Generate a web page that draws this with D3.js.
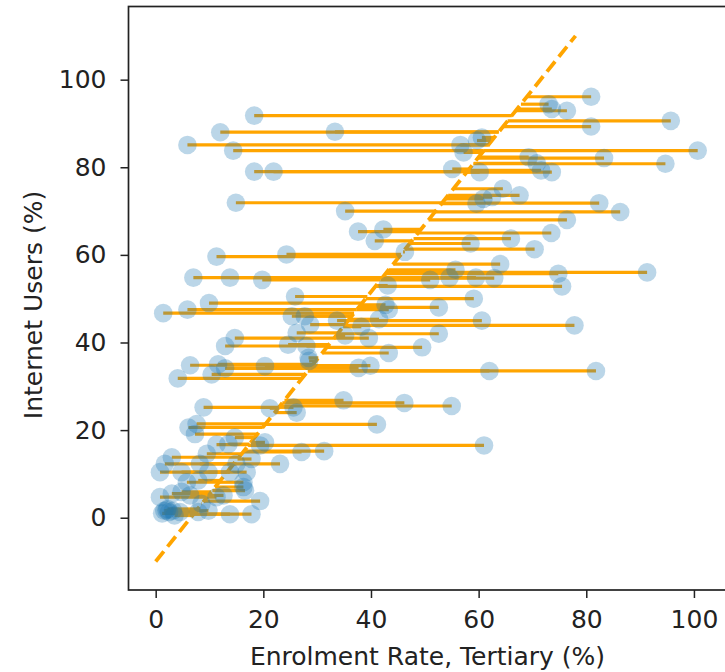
<!DOCTYPE html>
<html>
<head>
<meta charset="utf-8">
<script src="https://cdn.jsdelivr.net/npm/d3@7"></script>
<style>
  body { margin: 0; background: #fff; }
  text { font-family: "DejaVu Sans", sans-serif; fill: #222; }
</style>
</head>
<body>
<svg id="chart" width="725" height="672"></svg>
<script>
// enrolment rate (x) and internet users (y)
const enrolment = [
  18.3, 12.0, 33.3, 5.9, 14.4, 18.3, 21.9, 14.9, 35.2, 37.6, 42.3, 40.7, 46.3, 11.3, 24.3,
  7.0, 13.8, 19.8, 43.1, 25.9, 80.9, 73.0, 73.6, 76.4, 95.7, 80.9, 56.6, 60.6, 59.7, 57.2,
  100.7, 83.3, 94.7, 69.3, 70.8, 71.6, 73.6, 55.1, 60.2, 64.5, 67.6, 59.6, 60.9, 62.5, 82.4,
  86.3, 76.4, 73.5, 66.0, 70.4, 58.5, 91.3, 74.8, 75.5, 64.0, 55.7, 51.0, 54.6, 59.5, 62.9,
  59.1, 52.6, 60.6, 77.8, 52.6, 49.5, 62.0, 81.8, 55.0, 61.0, 42.7, 43.3, 33.7, 38.2, 41.5,
  35.2, 39.6, 43.3, 37.7, 39.9, 34.9, 46.2, 41.1, 31.3, 1.4, 5.9, 9.9, 25.3, 27.7, 28.7,
  26.2, 24.6, 28.0, 28.4, 28.5, 14.7, 12.9, 6.4, 11.6, 12.9, 20.3, 4.1, 10.4, 8.9, 21.2,
  25.6, 26.2, 6.1, 7.3, 7.6, 14.7, 13.5, 11.3, 20.3, 19.4, 23.1, 27.1, 17.8, 3.0, 1.7,
  9.5, 8.2, 0.8, 4.8, 9.8, 13.8, 16.9, 15.0, 5.8, 7.9, 16.3, 16.3, 0.8, 3.0, 4.8,
  6.4, 11.3, 12.6, 19.4, 8.5, 2.0, 1.6, 2.5, 3.2, 4.5, 7.9, 9.8, 13.8, 17.8, 16.6,
  2.2, 1.2, 3.5
];
const internetUsers = [
  91.8, 88.0, 88.1, 85.1, 83.8, 79.0, 79.0, 71.9, 70.0, 65.3, 65.8, 63.2, 60.7, 59.6, 60.1,
  54.8, 54.8, 54.3, 53.0, 50.5, 96.1, 94.4, 93.3, 92.9, 90.6, 89.3, 85.1, 86.8, 86.1, 83.4,
  83.8, 82.1, 80.8, 82.3, 80.9, 79.3, 78.9, 79.6, 78.9, 75.1, 73.6, 71.7, 72.8, 73.2, 71.8,
  69.8, 68.0, 65.0, 63.7, 61.3, 62.6, 56.0, 55.7, 52.8, 57.9, 56.6, 54.3, 54.8, 54.8, 54.7,
  50.0, 48.0, 45.0, 43.9, 42.0, 38.9, 33.5, 33.5, 25.5, 16.5, 48.6, 47.5, 45.0, 43.6, 45.3,
  41.6, 41.0, 37.6, 34.2, 34.7, 26.8, 26.2, 21.3, 15.2, 46.7, 47.5, 49.0, 46.0, 46.0, 44.1,
  42.2, 39.5, 39.2, 36.5, 35.8, 41.0, 39.2, 34.8, 35.0, 34.1, 34.6, 31.8, 32.7, 25.2, 25.0,
  25.2, 24.0, 20.6, 19.1, 21.4, 18.3, 16.8, 16.7, 17.2, 16.5, 12.3, 15.0, 13.4, 13.8, 12.3,
  14.6, 12.3, 10.4, 10.4, 10.4, 10.4, 10.4, 12.3, 8.1, 8.5, 8.1, 7.0, 4.7, 5.5, 5.9,
  5.1, 4.7, 5.1, 3.8, 3.2, 1.7, 1.6, 1.3, 1.6, 1.3, 1.3, 1.6, 0.8, 0.8, 6.2,
  2.0, 1.0, 0.5
];
// dashed fit line, enrolment as a function of internet users
const fitUsers = [-10, 110];
const fitEnrolment = [0, 78];
const xTicks = [0, 20, 40, 60, 80, 100];
const yTicks = [0, 20, 40, 60, 80, 100];

const svg = d3.select("#chart");

const x = d3.scaleLinear().domain([-5.05, 106.05]).range([128.5, 726.5]);
const y = d3.scaleLinear().domain([-16.5, 116.7]).range([590, 6.5]);

// fit line as a function of y
const fit = d3.scaleLinear().domain(fitUsers).range(fitEnrolment);

const points = enrolment.map((e, i) => ({ x: e, y: internetUsers[i] }));

// horizontal residuals to the fit line
svg.append("g")
  .selectAll("line")
  .data(points)
  .enter()
  .append("line")
  .attr("x1", d => x(d.x))
  .attr("x2", d => x(fit(d.y)))
  .attr("y1", d => y(d.y))
  .attr("y2", d => y(d.y))
  .attr("stroke", "orange")
  .attr("stroke-width", 3.2);

svg.append("line")
  .attr("x1", x(fitEnrolment[0]))
  .attr("y1", y(fitUsers[0]))
  .attr("x2", x(fitEnrolment[1]))
  .attr("y2", y(fitUsers[1]))
  .attr("stroke", "orange")
  .attr("stroke-width", 3.8)
  .attr("stroke-dasharray", "13,6");

svg.append("g")
  .selectAll("circle")
  .data(points)
  .enter()
  .append("circle")
  .attr("cx", d => x(d.x))
  .attr("cy", d => y(d.y))
  .attr("r", 9.3)
  .attr("fill", "#1f77b4")
  .attr("fill-opacity", 0.3);

// frame
svg.append("rect")
  .attr("x", x.range()[0])
  .attr("y", y.range()[1])
  .attr("width", x.range()[1] - x.range()[0])
  .attr("height", y.range()[0] - y.range()[1])
  .attr("fill", "none")
  .attr("stroke", "#222")
  .attr("stroke-width", 1.7);

const xAxis = svg.append("g")
  .attr("transform", `translate(0,${y.range()[0]})`)
  .call(d3.axisBottom(x).tickValues(xTicks).tickSize(8).tickPadding(12));
const yAxis = svg.append("g")
  .attr("transform", `translate(${x.range()[0]},0)`)
  .call(d3.axisLeft(y).tickValues(yTicks).tickSize(8).tickPadding(14));

[xAxis, yAxis].forEach(a => {
  a.select(".domain").remove();
  a.selectAll("line").attr("stroke", "#222").attr("stroke-width", 1.5);
  a.selectAll("text")
    .style("font-family", "DejaVu Sans")
    .style("font-size", "25px")
    .attr("fill", "#222");
});

svg.append("text")
  .attr("x", (x.range()[0] + x.range()[1]) / 2)
  .attr("y", 665)
  .attr("text-anchor", "middle")
  .style("font-size", "25px")
  .text("Enrolment Rate, Tertiary (%)");

svg.append("text")
  .attr("transform", "translate(42,305) rotate(-90)")
  .attr("text-anchor", "middle")
  .style("font-size", "25px")
  .text("Internet Users (%)");
</script>
</body>
</html>
